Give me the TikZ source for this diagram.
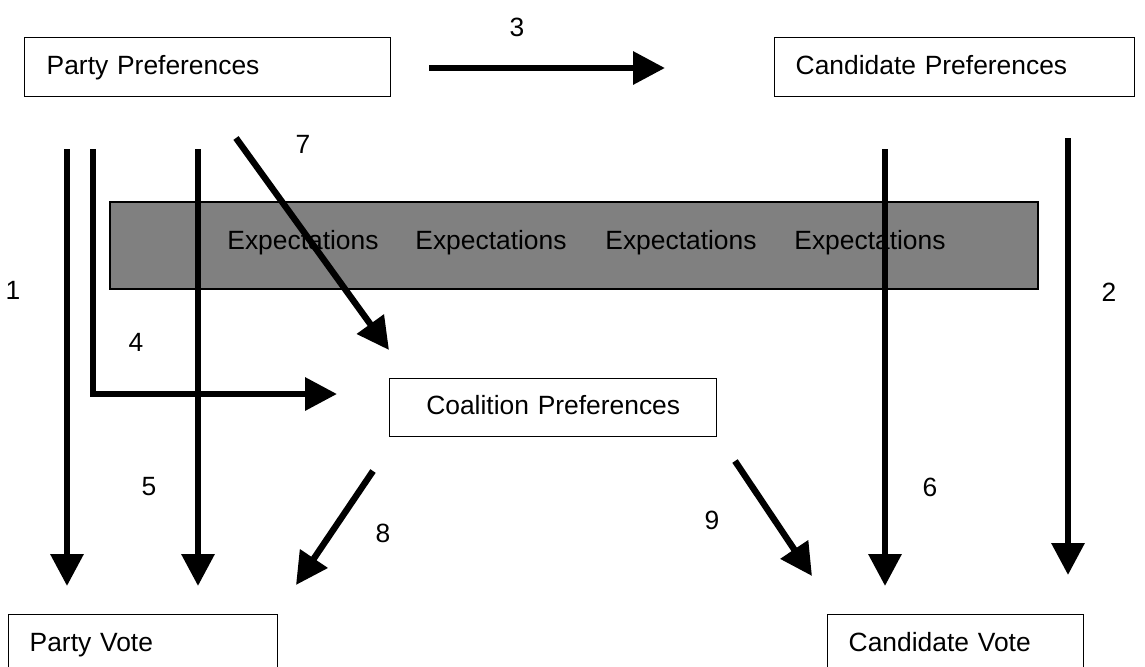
\documentclass[tikz,border=0pt]{standalone}
\usepackage{fontspec}
\setmainfont{Liberation Sans}
\usetikzlibrary{arrows.meta}

\tikzset{
  box/.style={draw=black, line width=0.7pt, fill=white, anchor=north west,
    inner xsep=10.5pt, inner ysep=0pt, align=left,
    text height=9.6pt, text depth=2.8pt},
  flow/.style={line width=3.2pt, line join=miter,
    -{Triangle[length=16pt,width=16pt]}},
  numlabel/.style={inner sep=0pt},
}

\begin{document}
\begin{tikzpicture}[
      x=0.5pt, y=-0.5pt,
      every node/.style={font=\fontsize{13.2}{15}\selectfont},
    ]
    \useasboundingbox (0,0) rectangle (1145,666);
    %% Grey expectations band behind the arrows.
    \draw[fill=gray, line width=0.7pt] (110,202) rectangle (1038,289);
    \foreach \x [count=\i] in {227,415,605,794}
      \node[anchor=west, inner sep=0pt] (expect\i) at (\x,243) {Expectations};
    %% Boxes.
    \node[box, inner xsep=11pt, text width=161pt, minimum height=29.5pt]
      (partypref) at (24,37) {Party Preferences};
    \node[box, text width=159pt, minimum height=29.5pt]
      (candpref) at (774,37) {Candidate Preferences};
    \node[box, align=center, text width=142.5pt, minimum height=29pt]
      (coalpref) at (389,378) {Coalition Preferences};
    \node[box, text width=113.5pt, minimum height=30pt]
      (partyvote) at (8,614) {Party Vote};
    \node[box, text width=107pt, minimum height=30pt]
      (candvote) at (827,614) {Candidate Vote};
    %% Free ends of the arrows.
    \coordinate (one-s)   at (67,149);   \coordinate (one-e)   at (67,586);
    \coordinate (two-s)   at (1068,138); \coordinate (two-e)   at (1068,575);
    \coordinate (three-s) at (429,68);   \coordinate (three-e) at (665,68);
    \coordinate (four-s)  at (93,149);   \coordinate (four-e)  at (337,394);
    \coordinate (five-s)  at (198,149);  \coordinate (five-e)  at (198,586);
    \coordinate (six-s)   at (885,149);  \coordinate (six-e)   at (885,586);
    \coordinate (seven-s) at (236,138);  \coordinate (seven-e) at (389,350);
    \coordinate (eight-s) at (373,471);  \coordinate (eight-e) at (296,585);
    \coordinate (nine-s)  at (735,461);  \coordinate (nine-e)  at (812,576);
    %% Arrows.
    \draw[flow] (one-s) -- (one-e);
    \draw[flow] (two-s) -- (two-e);
    \draw[flow] (three-s) -- (three-e);
    \draw[flow] (four-s) |- (four-e);
    \draw[flow] (five-s) -- (five-e);
    \draw[flow] (six-s) -- (six-e);
    \draw[flow] (seven-s) -- (seven-e);
    \draw[flow] (eight-s) -- (eight-e);
    \draw[flow] (nine-s) -- (nine-e);
    %% Path numbers.
    \foreach \t/\x/\y in {1/13/290, 2/1109/292, 3/517/27, 4/136/342,
        5/149/487, 6/930/487, 7/303/144, 8/383/533, 9/712/520}
      \node[numlabel] (num\t) at (\x,\y) {\t};
  \end{tikzpicture}
\end{document}
